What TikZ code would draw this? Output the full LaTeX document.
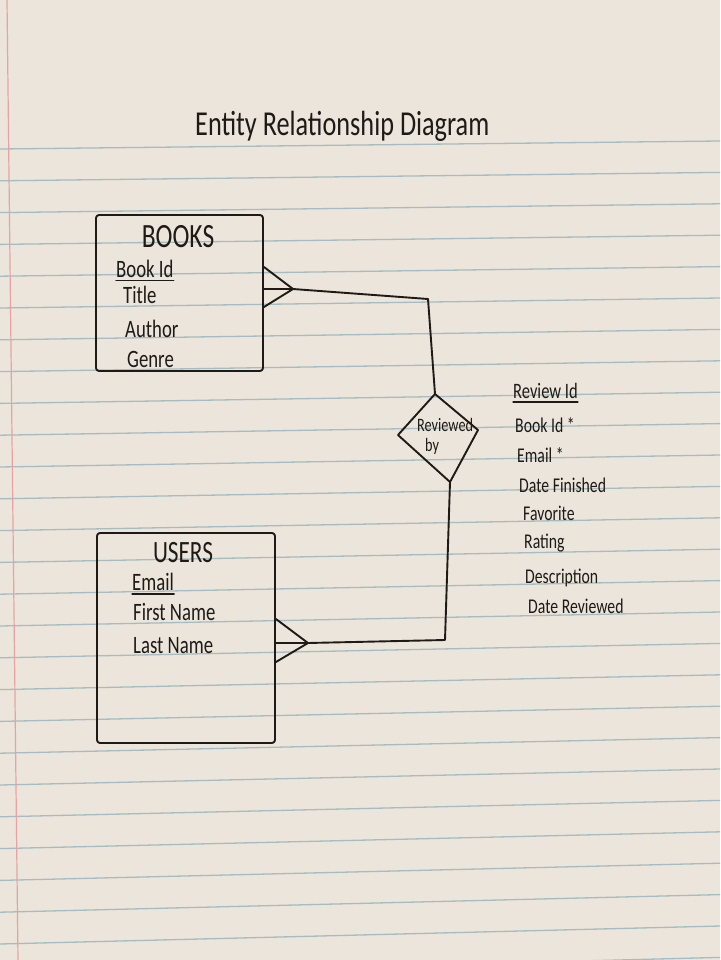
\documentclass[tikz,border=0pt]{standalone}
\usepackage{fontspec}
\newfontfamily\hand[FakeStretch=0.75]{Carlito}
\definecolor{paper}{HTML}{ECE5DB}
\definecolor{rulecol}{HTML}{A6BCC2}
\definecolor{margincol}{HTML}{E7A3A3}
\definecolor{ink}{HTML}{1E1A16}
\begin{document}
\begin{tikzpicture}[x=1pt,y=-1pt,
  pen/.style={draw=ink, line width=1.9pt, line join=round, line cap=round},
  entity/.style={pen, rectangle, rounded corners=3pt, inner sep=0pt},
  lbl/.style={anchor=base west, inner sep=0pt, text=ink, font=\hand\fontsize{#1}{#1}\selectfont},
  ctr/.style={anchor=base, inner sep=0pt, text=ink, font=\hand\fontsize{#1}{#1}\selectfont},
  rulel/.style={draw=rulecol, line width=1.3pt},
  uline/.style={draw=ink, line width=1.3pt, line cap=round}]
\useasboundingbox (0,0) rectangle (720,960);
\clip (0,0) rectangle (720,960);
\fill[paper] (0,0) rectangle (720,960);
% paper rules
\foreach \k in {0,...,26} \draw[rulel] (0,{149+31.8*\k}) -- (720,{141+31.4*\k});
\draw[draw=margincol, line width=1.2pt] (7,0) -- (18,960);

% title
\node[lbl=35] (title) at (195,136) {Entity Relationship Diagram};

% BOOKS entity
\node[entity, minimum width=167pt, minimum height=156pt] (books) at (179.5,293) {};
\node[ctr=34] (booksname) at (178,247) {BOOKS};
\node[lbl=25] (bid) at (116,277) {Book Id};
\draw[uline] ([yshift=-3.5pt]bid.base west) -- ([yshift=-3.5pt]bid.base east);
\node[lbl=25] (btitle) at (123,303) {Title};
\node[lbl=25] (bauthor) at (125,337) {Author};
\node[lbl=25] (bgenre) at (127,367) {Genre};

% USERS entity
\node[entity, minimum width=178pt, minimum height=210pt] (users) at (186,638) {};
\node[ctr=31] (usersname) at (183,562) {USERS};
\node[lbl=25] (uemail) at (132,590) {Email};
\draw[uline] ([yshift=-4pt]uemail.base west) -- ([yshift=-4pt]uemail.base east);
\node[lbl=25] (ufirst) at (133,620) {First Name};
\node[lbl=25] (ulast) at (133,653) {Last Name};

% relationship diamond
\coordinate (dT) at (435,394);
\coordinate (dR) at (478,430);
\coordinate (dB) at (450,482);
\coordinate (dL) at (398,435);
\draw[pen] (dT) -- (dR) -- (dB) -- (dL) -- cycle;
\node[lbl=19] (rel1) at (417,431) {Reviewed};
\node[lbl=19] (rel2) at (425,451) {by};

% connectors with crow's feet
\coordinate (bft) at (293,289);
\coordinate (c1) at (428,299);
\draw[pen] (books.east |- 0,267) -- (bft);
\draw[pen] (books.east |- 0,289) -- (bft);
\draw[pen] (books.east |- 0,307) -- (bft);
\draw[pen] (bft) -- (c1) -- (dT);

\coordinate (uft) at (308,643);
\coordinate (c2) at (445,640);
\draw[pen] (users.east |- 0,619) -- (uft);
\draw[pen] (users.east |- 0,643) -- (uft);
\draw[pen] (users.east |- 0,662) -- (uft);
\draw[pen] (dB) -- (c2) -- (uft);

% relationship attributes
\node[lbl=22] (rid) at (513,398) {Review Id};
\draw[uline] ([yshift=-4pt]rid.base west) -- ([yshift=-4pt]rid.base east);
\node[lbl=21] (rbid) at (515,432) {Book Id *};
\node[lbl=21] (remail) at (517,462) {Email *};
\node[lbl=21] (rdf) at (519,492) {Date Finished};
\node[lbl=21] (rfav) at (523,520) {Favorite};
\node[lbl=21] (rrat) at (524,548) {Rating};
\node[lbl=21] (rdesc) at (525,583) {Description};
\node[lbl=21] (rdr) at (528,613) {Date Reviewed};
\end{tikzpicture}
\end{document}
